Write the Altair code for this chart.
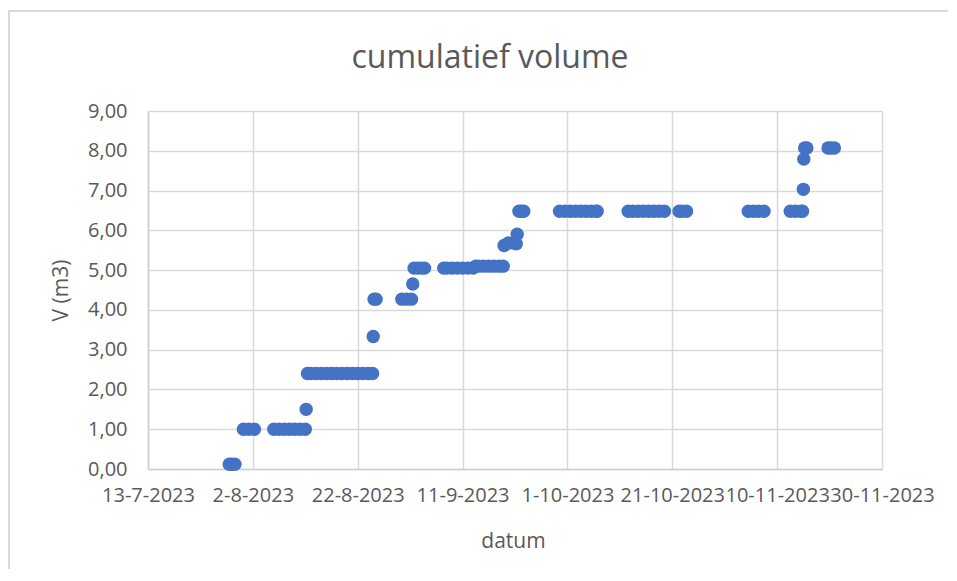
import altair as alt
import pandas as pd

# measurement timestamps (local time) and cumulative volume in m3
dates = [
    "2023-07-28T12:00", "2023-07-29T00:00", "2023-07-29T14:00",
    "2023-07-31T05:00", "2023-08-01T05:00", "2023-08-02T07:00",
    "2023-08-06T00:00", "2023-08-07T00:00", "2023-08-08T00:00", "2023-08-09T00:00",
    "2023-08-10T00:00", "2023-08-11T00:00", "2023-08-12T00:00",
    "2023-08-12T04:00",
    "2023-08-12T10:00", "2023-08-13T00:00", "2023-08-14T00:00", "2023-08-15T00:00",
    "2023-08-16T00:00", "2023-08-17T00:00", "2023-08-18T00:00", "2023-08-19T00:00",
    "2023-08-20T00:00", "2023-08-21T00:00", "2023-08-22T00:00", "2023-08-23T00:00",
    "2023-08-24T00:00", "2023-08-24T20:00",
    "2023-08-24T23:00",
    "2023-08-25T03:00", "2023-08-25T12:00",
    "2023-08-30T10:00", "2023-08-31T08:00", "2023-09-01T06:00",
    "2023-09-01T12:00",
    "2023-09-01T18:00", "2023-09-02T12:00", "2023-09-03T06:00", "2023-09-03T18:00",
    "2023-09-07T10:00", "2023-09-08T00:00", "2023-09-09T00:00", "2023-09-10T00:00",
    "2023-09-11T00:00", "2023-09-12T00:00", "2023-09-13T00:00",
    "2023-09-13T12:00", "2023-09-14T00:00", "2023-09-15T00:00", "2023-09-16T00:00",
    "2023-09-17T00:00", "2023-09-18T00:00", "2023-09-18T18:00",
    "2023-09-18T22:00", "2023-09-19T18:00", "2023-09-20T18:00", "2023-09-21T06:00",
    "2023-09-21T10:00",
    "2023-09-21T18:00", "2023-09-22T06:00", "2023-09-22T16:00",
    "2023-09-29T12:00", "2023-09-30T12:00", "2023-10-01T12:00", "2023-10-02T12:00",
    "2023-10-03T12:00", "2023-10-04T12:00", "2023-10-05T12:00", "2023-10-06T12:00",
    "2023-10-06T16:00",
    "2023-10-12T14:00", "2023-10-13T12:00", "2023-10-14T12:00", "2023-10-15T12:00",
    "2023-10-16T12:00", "2023-10-17T12:00", "2023-10-18T12:00", "2023-10-19T12:00",
    "2023-10-22T07:00", "2023-10-22T20:00", "2023-10-23T17:00",
    "2023-11-04T12:00", "2023-11-05T12:00", "2023-11-06T12:00", "2023-11-07T12:00",
    "2023-11-12T12:00", "2023-11-13T12:00", "2023-11-14T12:00", "2023-11-14T20:00",
    "2023-11-15T00:00",
    "2023-11-15T02:00",
    "2023-11-15T06:00", "2023-11-15T16:00",
    "2023-11-19T17:00", "2023-11-20T06:00", "2023-11-20T22:00",
]

volumes = [
    0.12, 0.12, 0.12,
    1.00, 1.00, 1.00,
    1.00, 1.00, 1.00, 1.00,
    1.00, 1.00, 1.00,
    1.50,
    2.40, 2.40, 2.40, 2.40,
    2.40, 2.40, 2.40, 2.40,
    2.40, 2.40, 2.40, 2.40,
    2.40, 2.40,
    3.33,
    4.27, 4.27,
    4.27, 4.27, 4.27,
    4.65,
    5.05, 5.05, 5.05, 5.05,
    5.05, 5.05, 5.05, 5.05,
    5.05, 5.05, 5.05,
    5.10, 5.10, 5.10, 5.10,
    5.10, 5.10, 5.10,
    5.62, 5.68, 5.68, 5.66,
    5.90,
    6.48, 6.48, 6.48,
    6.48, 6.48, 6.48, 6.48,
    6.48, 6.48, 6.48, 6.48,
    6.48,
    6.48, 6.48, 6.48, 6.48,
    6.48, 6.48, 6.48, 6.48,
    6.48, 6.48, 6.48,
    6.48, 6.48, 6.48, 6.48,
    6.48, 6.48, 6.48, 6.48,
    7.03,
    7.79,
    8.07, 8.07,
    8.07, 8.07, 8.07,
]

x_ticks = [(2023, 7, 13), (2023, 8, 2), (2023, 8, 22), (2023, 9, 11),
           (2023, 10, 1), (2023, 10, 21), (2023, 11, 10), (2023, 11, 30)]
y_ticks = [0, 1, 2, 3, 4, 5, 6, 7, 8, 9]

title_text = "cumulatief volume"
x_title = "datum"
y_title = "V (m3)"

df = pd.DataFrame({"datum": dates, "volume": volumes})

FONT = "Open Sans"
TXT = "#595959"
GRID = "#d9d9d9"

x_vals = [alt.DateTime(year=y, month=m, date=d) for (y, m, d) in x_ticks]

points = alt.Chart(df).mark_circle(size=180, color="#4472C4", opacity=1).encode(
    x=alt.X(
        "datum:T",
        scale=alt.Scale(domain=[x_vals[0], x_vals[-1]], nice=False),
        axis=alt.Axis(
            values=x_vals,
            format="%-d-%-m-%Y",
            labelOverlap=False,
            labelFlush=False,
            grid=True,
            gridColor=GRID,
            gridWidth=1.5,
            domainColor="#cfcfcf",
            domainWidth=1.5,
            ticks=False,
            labelPadding=16,
            labelFont=FONT,
            labelFontSize=20,
            labelColor=TXT,
            title=x_title,
            titleFont=FONT,
            titleFontSize=21,
            titleFontWeight="normal",
            titleColor=TXT,
            titleX=365,
            titleY=72,
            titleAlign="center",
            titleBaseline="middle",
        ),
    ),
    y=alt.Y(
        "volume:Q",
        scale=alt.Scale(domain=[0, 9], nice=False, zero=True),
        axis=alt.Axis(
            values=y_ticks,
            labelExpr="replace(format(datum.value, '.2f'), '.', ',')",
            grid=True,
            gridColor=GRID,
            gridWidth=1.5,
            domainColor="#cfcfcf",
            domainWidth=1.5,
            ticks=False,
            labelPadding=21,
            labelFont=FONT,
            labelFontSize=20,
            labelColor=TXT,
            labelBaseline="middle",
            title=y_title,
            titleFont=FONT,
            titleFontSize=21,
            titleFontWeight="normal",
            titleColor=TXT,
            titleAngle=270,
            titleX=-87,
            titleY=179,
            titleAlign="center",
            titleBaseline="middle",
        ),
    ),
)

frame = alt.Chart(alt.Data(values=[{}])).mark_rect(
    fillOpacity=0, stroke="#d9d9d9", strokeWidth=2
).encode(
    x=alt.value(-139), x2=alt.value(900), y=alt.value(-100), y2=alt.value(600)
)

title = alt.Chart(alt.Data(values=[{}])).mark_text(
    text=title_text, font=FONT, fontSize=32, color=TXT,
    align="center", baseline="alphabetic"
).encode(x=alt.value(342), y=alt.value(-43))

chart = alt.layer(frame, points, title).properties(
    width=734,
    height=358,
    autosize=alt.AutoSizeParams(type="none"),
    padding={"left": 140, "top": 103, "right": 66, "bottom": 100},
    background="white",
).configure_view(stroke=None)

chart.save("out.html", embed_options={"renderer": "svg", "actions": False})
